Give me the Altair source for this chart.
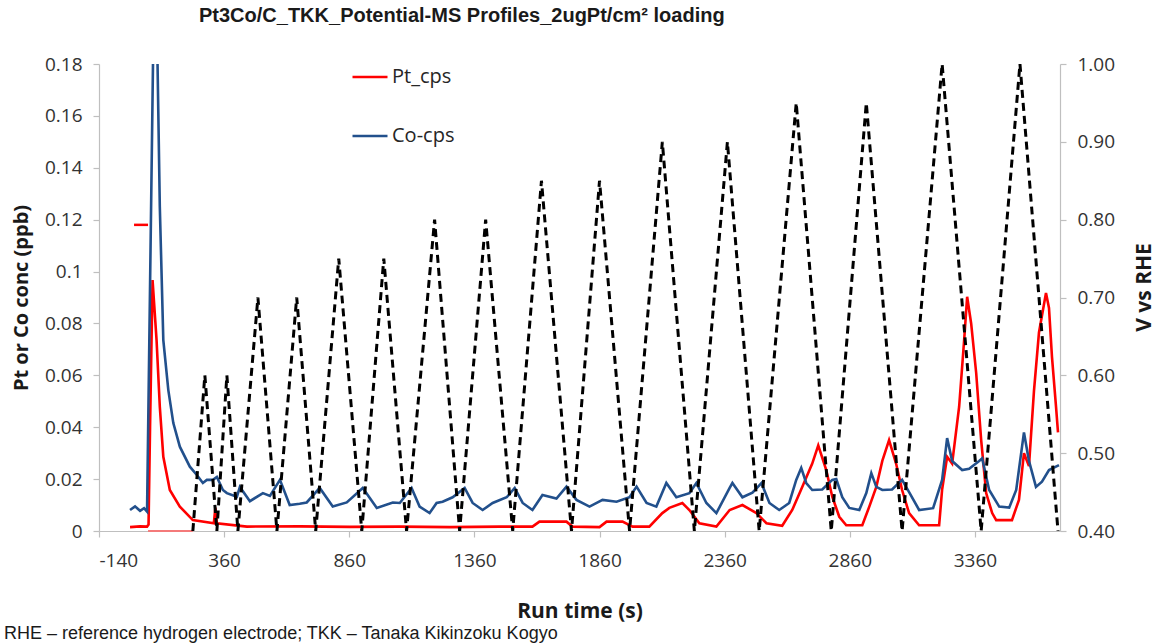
import altair as alt
import pandas as pd

# Run time (s) and concentration (ppb) for the two ICP-MS traces
pt_t = [-16, 24, 52, 58, 64, 74, 90, 103, 117, 143,
        183, 235, 319, 325, 331, 451, 662, 862, 1062, 1261,
        1461, 1592, 1620, 1728, 1752, 1860, 1888, 1952, 1992, 2059,
        2111, 2139, 2191, 2219, 2259, 2327, 2380, 2431, 2487, 2527,
        2590, 2630, 2670, 2710, 2734, 2766, 2790, 2818, 2846, 2910,
        2938, 2966, 2990, 3017, 3045, 3069, 3097, 3137, 3217, 3229,
        3249, 3269, 3297, 3317, 3329, 3345, 3365, 3385, 3405, 3429,
        3445, 3508, 3536, 3556, 3576, 3596, 3616, 3644, 3656, 3668,
        3684, 3692]
pt_v = [0.0015, 0.0018, 0.0017, 0.0025, 0.04, 0.0967, 0.0736, 0.0479, 0.0286, 0.0158,
        0.0094, 0.0042, 0.003, 0.009, 0.003, 0.0017, 0.0018, 0.0016, 0.0017, 0.0015,
        0.0017, 0.0017, 0.0036, 0.0036, 0.0017, 0.0015, 0.0036, 0.0036, 0.0017, 0.0017,
        0.0069, 0.0089, 0.0108, 0.0081, 0.003, 0.0017, 0.0081, 0.010, 0.0069, 0.003,
        0.002, 0.0081, 0.017, 0.026, 0.033, 0.0235, 0.0132, 0.0055, 0.0022, 0.0022,
        0.0094, 0.017, 0.027, 0.035, 0.026, 0.0158, 0.0069, 0.0022, 0.0022, 0.016,
        0.0286, 0.026, 0.0479, 0.0736, 0.0903, 0.080, 0.061, 0.035, 0.0146, 0.0069,
        0.0042, 0.0042, 0.012, 0.030, 0.025, 0.054, 0.0765, 0.0917, 0.086, 0.067,
        0.048, 0.038]

co_t = [-16, 4, 24, 40, 52, 84, 103, 117, 137, 157,
        183, 223, 251, 275, 291, 315, 331, 355, 371, 411,
        423, 463, 515, 543, 583, 622, 662, 690, 742, 794,
        850, 914, 970, 1034, 1062, 1109, 1141, 1181, 1209, 1233,
        1273, 1321, 1353, 1393, 1433, 1489, 1521, 1553, 1592, 1632,
        1688, 1728, 1768, 1820, 1872, 1928, 1980, 2008, 2048, 2087,
        2127, 2167, 2219, 2247, 2287, 2327, 2380, 2391, 2431, 2471,
        2507, 2539, 2578, 2618, 2646, 2666, 2686, 2710, 2750, 2790,
        2806, 2830, 2858, 2898, 2926, 2946, 2966, 2990, 3029, 3069,
        3097, 3137, 3193, 3229, 3249, 3269, 3309, 3337, 3377, 3389,
        3417, 3457, 3497, 3525, 3556, 3576, 3604, 3628, 3656, 3696]
co_v = [0.0081, 0.0095, 0.0078, 0.0088, 0.0075, 0.24, 0.125, 0.0736, 0.0543, 0.0416,
        0.0325, 0.0248, 0.0216, 0.0185, 0.0197, 0.0197, 0.0208, 0.0158, 0.0146, 0.0132,
        0.017, 0.0115, 0.0146, 0.0135, 0.0197, 0.010, 0.0105, 0.011, 0.0166, 0.0094,
        0.011, 0.0166, 0.0089, 0.011, 0.0108, 0.0166, 0.0094, 0.0069, 0.0108, 0.0113,
        0.013, 0.0166, 0.0108, 0.0081, 0.0108, 0.013, 0.0166, 0.0108, 0.0081, 0.0139,
        0.0125, 0.0171, 0.012, 0.0094, 0.012, 0.0113, 0.013, 0.0171, 0.0108, 0.0094,
        0.0185, 0.013, 0.0146, 0.0185, 0.0108, 0.0069, 0.0166, 0.0185, 0.013, 0.0148,
        0.0185, 0.0108, 0.0081, 0.0108, 0.0197, 0.0243, 0.0185, 0.0158, 0.016, 0.0197,
        0.020, 0.013, 0.0089, 0.0081, 0.0146, 0.0223, 0.017, 0.0158, 0.016, 0.0197,
        0.015, 0.0081, 0.0088, 0.0197, 0.0358, 0.027, 0.0235, 0.024, 0.027, 0.028,
        0.0158, 0.0094, 0.009, 0.0158, 0.038, 0.027, 0.017, 0.019, 0.0235, 0.0254]

# Applied potential (V vs RHE), triangular sweeps with rising upper limit
pot_t = [235, 283, 331, 371, 415, 495, 571, 650, 726, 818, 910, 998, 1089,
         1201, 1301, 1405, 1513, 1628, 1748, 1860, 1980, 2111, 2239, 2371,
         2498, 2646, 2786, 2926, 3069, 3229, 3385, 3540, 3692]
pot_v = [0.40, 0.60, 0.40, 0.60, 0.40, 0.70, 0.40, 0.70, 0.40, 0.75, 0.40, 0.75, 0.40,
         0.80, 0.40, 0.80, 0.40, 0.85, 0.40, 0.85, 0.40, 0.90, 0.40, 0.90,
         0.40, 0.95, 0.40, 0.95, 0.40, 1.00, 0.40, 1.00, 0.40]

# Short Pt-coloured segments near the start of the run
mark_seg = ["a", "a", "b", "b"]
mark_t = [0, 56, 56, 235]
mark_v = [0.118, 0.118, 0.0, 0.0]

x_ticks = [-140, 360, 860, 1360, 1860, 2360, 2860, 3360]
left_ticks = [0, 0.02, 0.04, 0.06, 0.08, 0.1, 0.12, 0.14, 0.16, 0.18]
right_ticks = [0.4, 0.5, 0.6, 0.7, 0.8, 0.9, 1.0]

title_text = "Pt3Co/C_TKK_Potential-MS Profiles_2ugPt/cm\u00b2 loading"
footnote = "RHE \u2013 reference hydrogen electrode; TKK \u2013 Tanaka Kikinzoku Kogyo"

W, H = 961, 467
UI = "Open Sans"
PT_RED = "#ff0000"
CO_BLUE = "#22508c"

ms = pd.concat([
    pd.DataFrame({"t": pt_t, "value": pt_v, "series": "Pt_cps"}),
    pd.DataFrame({"t": co_t, "value": co_v, "series": "Co-cps"}),
])
pot = pd.DataFrame({"t": pot_t, "V": pot_v})
marks = pd.DataFrame({"t": mark_t, "value": mark_v, "seg": mark_seg})

x_enc = alt.X(
    "t:Q",
    scale=alt.Scale(domain=[-140, 3700], nice=False, zero=False),
    axis=alt.Axis(values=x_ticks, labelExpr="'' + datum.value",
                  title="Run time (s)", labelPadding=14, titleY=80,
                  titleBaseline="middle", titleFontSize=21),
)

y_left = alt.Y(
    "value:Q",
    scale=alt.Scale(domain=[0, 0.18], nice=False),
    axis=alt.Axis(values=left_ticks, format=".2~f", title="Pt or Co conc (ppb)",
                  labelPadding=11, titleAngle=270, titleX=-78, titleY=H / 2,
                  titleBaseline="middle", titleAlign="center", titleFontSize=20),
)

color_scale = alt.Scale(domain=["Pt_cps", "Co-cps"], range=[PT_RED, CO_BLUE])
legend = alt.Legend(
    title=None, orient="none", legendX=252, legendY=-6,
    symbolType="stroke", symbolSize=1225, symbolStrokeWidth=2.5,
    labelFont=UI, labelFontSize=20, labelColor="#262626",
    rowPadding=30, labelOffset=3,
)

ms_base = alt.Chart(ms).mark_line(clip=True, strokeWidth=2.6).encode(
    x=x_enc, y=y_left,
    color=alt.Color("series:N", scale=color_scale, legend=legend),
)
pt_line = ms_base.transform_filter(alt.datum.series == "Pt_cps")
co_line = ms_base.transform_filter(alt.datum.series == "Co-cps")

seg_a = alt.Chart(marks).transform_filter(alt.datum.seg == "a").mark_line(
    color=PT_RED, strokeWidth=2.5).encode(x=x_enc, y=y_left)
seg_b = alt.Chart(marks).transform_filter(alt.datum.seg == "b").mark_line(
    color="#f47a7a", strokeWidth=2).encode(x=x_enc, y=y_left)

left = alt.layer(seg_b, pt_line, co_line, seg_a)

pot_line = alt.Chart(pot).mark_line(
    color="black", strokeWidth=3, strokeDash=[8, 5], clip=True
).encode(
    x=x_enc,
    y=alt.Y(
        "V:Q",
        scale=alt.Scale(domain=[0.4, 1.0], nice=False, zero=False),
        axis=alt.Axis(orient="right", values=right_ticks, format=".2f",
                      title="V vs RHE", labelPadding=11, titleAngle=270,
                      titleX=84, titleY=223, titleBaseline="middle",
                      titleAlign="center", titleFontSize=21),
    ),
)

note = alt.Chart(pd.DataFrame({"note": [footnote]})).mark_text(
    align="left", baseline="middle", font="Liberation Sans", fontSize=18,
    color="#1a1a1a",
).encode(text="note:N", x=alt.value(-95), y=alt.value(570))

chart = alt.layer(left, pot_line, note).resolve_scale(
    y="independent"
).properties(
    width=W, height=H,
    background="white",
    autosize=alt.AutoSizeParams(type="none"),
    padding={"left": 99, "top": 64, "right": 96, "bottom": 113},
    title=alt.Title(
        text=title_text, anchor="start", frame="group", dx=100, offset=29,
        font="Liberation Sans", fontSize=20, fontWeight="bold", color="#1a1a1a",
    ),
).configure_view(stroke=None).configure_axis(
    grid=False,
    domainColor="#bfbfbf", domainWidth=1.2,
    tickColor="#bfbfbf", tickSize=6, tickWidth=1.2,
    labelFont=UI, labelFontSize=19, labelColor="#333333",
    titleFont=UI, titleFontWeight="bold", titleColor="#1a1a1a",
)

chart.save("out.html", embed_options={"renderer": "svg", "actions": False})
